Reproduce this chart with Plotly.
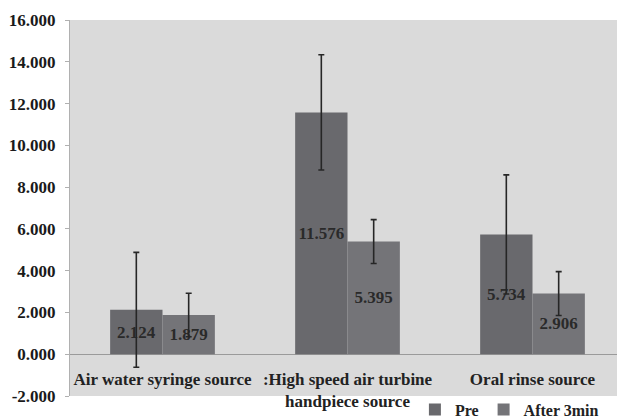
import plotly.graph_objects as go

categories = ["Air water syringe source",
              ":High speed air turbine<br>handpiece source",
              "Oral rinse source"]
pre_values = [2.124, 11.576, 5.734]
pre_errors = [2.75, 2.76, 2.85]
after_values = [1.879, 5.395, 2.906]
after_errors = [1.04, 1.05, 1.05]
y_ticks = [-2, 0, 2, 4, 6, 8, 10, 12, 14, 16]
y_tick_text = [f"{v:.3f}" for v in y_ticks]

FONT = "Liberation Serif, Times New Roman, serif"

fig = go.Figure()
for name, vals, errs, color in [("Pre", pre_values, pre_errors, "#69696d"),
                                ("After 3min", after_values, after_errors, "#747478")]:
    fig.add_trace(go.Bar(
        x=categories, y=vals, name=name,
        marker=dict(color=color, line=dict(width=0)),
        error_y=dict(type="data", array=errs, visible=True,
                     color="#262626", thickness=1.6, width=3),
        texttemplate="%{y:.3f}", textposition="inside",
        insidetextanchor="middle", constraintext="none",
        textfont=dict(family=FONT, size=17, color="#2a2a2a", weight="bold"),
        cliponaxis=False,
    ))

fig.update_layout(
    width=617, height=411,
    margin=dict(l=62, r=0, t=12, b=23, autoexpand=False),
    paper_bgcolor="white", plot_bgcolor="#dadada",
    barmode="group", bargap=0.434, bargroupgap=0,
    showlegend=True,
    legend=dict(orientation="h", x=0.962, xanchor="right", y=-0.036, yanchor="middle",
                bgcolor="rgba(0,0,0,0)",
                font=dict(family=FONT, size=16, color="#222", weight="bold"),
                itemwidth=30, tracegroupgap=0),
    xaxis=dict(anchor="free", position=2/18, showline=False, showgrid=False,
               ticks="", ticklabelstandoff=13,
               tickfont=dict(family=FONT, size=17, color="#222", weight="bold")),
    yaxis=dict(range=[-2, 16], tickvals=y_ticks, ticktext=y_tick_text,
               showgrid=False, zeroline=True, zerolinecolor="#9a9a9a", zerolinewidth=1.2,
               showline=True, linecolor="#b0b0b0", linewidth=1,
               ticks="outside", ticklen=4, tickcolor="#b0b0b0",
               ticklabelstandoff=6,
               tickfont=dict(family=FONT, size=17, color="#1a1a1a", weight="bold")),
)

fig.write_html("out.html")
